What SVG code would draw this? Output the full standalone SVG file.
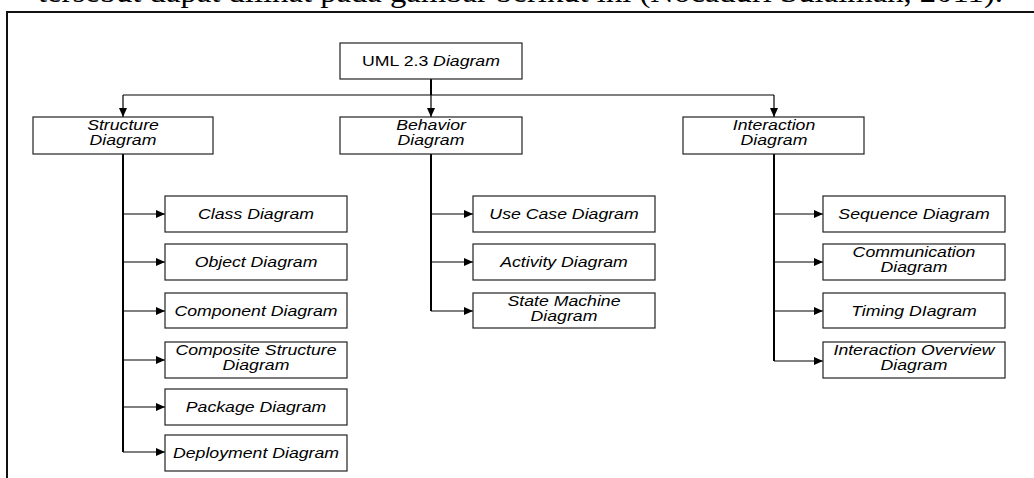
<svg xmlns="http://www.w3.org/2000/svg" width="1034" height="478" viewBox="0 0 1034 478">
<style>
.box{fill:#fff;stroke:#222;stroke-width:1.2}
.t{font-family:"Liberation Sans",Arial,sans-serif;font-size:14.5px;font-style:italic;fill:#000;text-anchor:middle}
.n{font-style:normal}
.ln{fill:none;stroke:#000;stroke-width:1.2}
.tr{fill:none;stroke:#000;stroke-width:2}
.cap{font-family:"Liberation Serif","Times New Roman",serif;font-size:30px;fill:#000}
</style>
<defs>
<marker id="ah" markerUnits="userSpaceOnUse" markerWidth="10" markerHeight="8" refX="9" refY="4" orient="auto">
<path d="M0,0 L9,4 L0,8 z" fill="#000"/>
</marker>
</defs>
<rect width="1034" height="478" fill="#fff"/>
<text class="cap" x="38" y="2" textLength="965" lengthAdjust="spacingAndGlyphs">tersebut dapat dilihat pada gambar berikut ini (Nocaduri Sulaiman, 2011).</text>
<path d="M7,478 V12 H1034" fill="none" stroke="#111" stroke-width="2"/>
<g id="connectors">
<path class="tr" d="M431,79 V95"/>
<path class="ln" d="M123,95 H774"/>
<path class="ln" d="M123,95 V117" marker-end="url(#ah)"/>
<path class="ln" d="M431,95 V117" marker-end="url(#ah)"/>
<path class="ln" d="M774,95 V117" marker-end="url(#ah)"/>
<path class="tr" d="M123,154 V452"/>
<path class="tr" d="M431,154 V311"/>
<path class="tr" d="M774,154 V361"/>
<path class="ln" d="M123,214 H165" marker-end="url(#ah)"/>
<path class="ln" d="M123,262 H165" marker-end="url(#ah)"/>
<path class="ln" d="M123,311 H165" marker-end="url(#ah)"/>
<path class="ln" d="M123,360 H165" marker-end="url(#ah)"/>
<path class="ln" d="M123,407 H165" marker-end="url(#ah)"/>
<path class="ln" d="M123,452 H165" marker-end="url(#ah)"/>
<path class="ln" d="M431,214 H473" marker-end="url(#ah)"/>
<path class="ln" d="M431,262 H473" marker-end="url(#ah)"/>
<path class="ln" d="M431,311 H473" marker-end="url(#ah)"/>
<path class="ln" d="M774,214 H823" marker-end="url(#ah)"/>
<path class="ln" d="M774,262 H823" marker-end="url(#ah)"/>
<path class="ln" d="M774,311 H823" marker-end="url(#ah)"/>
<path class="ln" d="M774,361 H823" marker-end="url(#ah)"/>
</g>
<g id="uml">
<rect class="box" x="340" y="43" width="182" height="36"/>
<text class="t" transform="translate(431,66) scale(1.22,1)"><tspan class="n">UML 2.3 </tspan>Diagram</text>
</g>
<g id="structure">
<rect class="box" x="33" y="117" width="180" height="37"/>
<text class="t" transform="translate(123,130) scale(1.22,1)">Structure</text>
<text class="t" transform="translate(123,145) scale(1.22,1)">Diagram</text>
</g>
<g id="behavior">
<rect class="box" x="340" y="117" width="182" height="37"/>
<text class="t" transform="translate(431,130) scale(1.22,1)">Behavior</text>
<text class="t" transform="translate(431,145) scale(1.22,1)">Diagram</text>
</g>
<g id="interaction">
<rect class="box" x="683" y="117" width="181" height="37"/>
<text class="t" transform="translate(774,130) scale(1.22,1)">Interaction</text>
<text class="t" transform="translate(774,145) scale(1.22,1)">Diagram</text>
</g>
<g id="class">
<rect class="box" x="165" y="196" width="182" height="36"/>
<text class="t" transform="translate(256,219) scale(1.22,1)">Class Diagram</text>
</g>
<g id="object">
<rect class="box" x="165" y="244" width="182" height="36"/>
<text class="t" transform="translate(256,267) scale(1.22,1)">Object Diagram</text>
</g>
<g id="component">
<rect class="box" x="165" y="293" width="182" height="35"/>
<text class="t" transform="translate(256,316) scale(1.22,1)">Component Diagram</text>
</g>
<g id="composite">
<rect class="box" x="165" y="342" width="182" height="36"/>
<text class="t" transform="translate(256,355) scale(1.22,1)">Composite Structure</text>
<text class="t" transform="translate(256,370) scale(1.22,1)">Diagram</text>
</g>
<g id="package">
<rect class="box" x="165" y="389" width="182" height="36"/>
<text class="t" transform="translate(256,412) scale(1.22,1)">Package Diagram</text>
</g>
<g id="deployment">
<rect class="box" x="165" y="435" width="182" height="36"/>
<text class="t" transform="translate(256,458) scale(1.22,1)">Deployment Diagram</text>
</g>
<g id="usecase">
<rect class="box" x="473" y="196" width="182" height="36"/>
<text class="t" transform="translate(564,219) scale(1.22,1)">Use Case Diagram</text>
</g>
<g id="activity">
<rect class="box" x="473" y="244" width="182" height="36"/>
<text class="t" transform="translate(564,267) scale(1.22,1)">Activity Diagram</text>
</g>
<g id="statemachine">
<rect class="box" x="473" y="293" width="182" height="35"/>
<text class="t" transform="translate(564,306) scale(1.22,1)">State Machine</text>
<text class="t" transform="translate(564,321) scale(1.22,1)">Diagram</text>
</g>
<g id="sequence">
<rect class="box" x="823" y="196" width="182" height="36"/>
<text class="t" transform="translate(914,219) scale(1.22,1)">Sequence Diagram</text>
</g>
<g id="communication">
<rect class="box" x="823" y="244" width="182" height="36"/>
<text class="t" transform="translate(914,257) scale(1.22,1)">Communication</text>
<text class="t" transform="translate(914,272) scale(1.22,1)">Diagram</text>
</g>
<g id="timing">
<rect class="box" x="823" y="293" width="182" height="35"/>
<text class="t" transform="translate(914,316) scale(1.22,1)">Timing DIagram</text>
</g>
<g id="interactionoverview">
<rect class="box" x="823" y="342" width="182" height="36"/>
<text class="t" transform="translate(914,355) scale(1.22,1)">Interaction Overview</text>
<text class="t" transform="translate(914,370) scale(1.22,1)">Diagram</text>
</g>
</svg>
